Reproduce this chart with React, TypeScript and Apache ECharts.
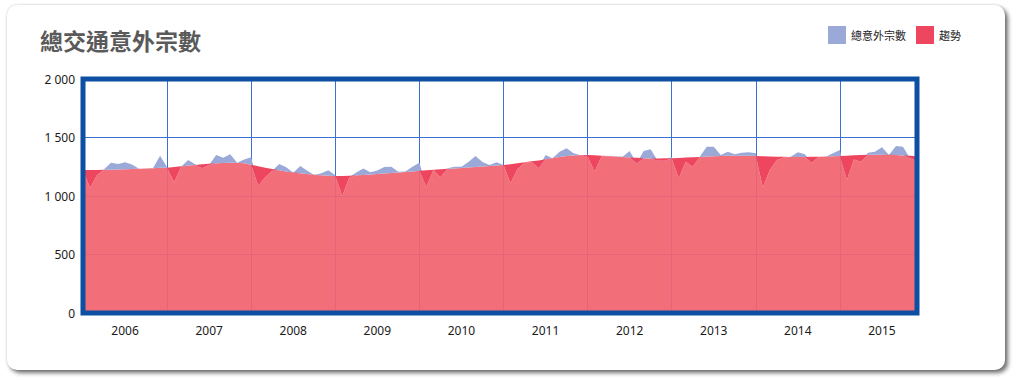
import React, { useEffect, useRef } from 'react';
import * as echarts from 'echarts';

const years = ['2006', '2007', '2008', '2009', '2010', '2011', '2012', '2013', '2014', '2015'];
const months = ['01', '02', '03', '04', '05', '06', '07', '08', '09', '10', '11', '12'];

// 總意外宗數 (monthly)
const totalAccidents = [
  1222, 1068, 1180, 1228, 1285, 1274, 1288, 1270, 1233, 1236, 1240, 1344,
  1245, 1117, 1250, 1308, 1271, 1237, 1265, 1350, 1327, 1356, 1285, 1313,
  1331, 1088, 1160, 1215, 1274, 1245, 1199, 1256, 1216, 1180, 1194, 1220,
  1178, 1000, 1160, 1200, 1234, 1202, 1217, 1248, 1251, 1208, 1210, 1251,
  1285, 1080, 1222, 1160, 1237, 1251, 1251, 1290, 1342, 1290, 1265, 1288,
  1265, 1108, 1230, 1285, 1290, 1237, 1350, 1322, 1379, 1408, 1365, 1348,
  1338, 1208, 1340, 1338, 1340, 1336, 1385, 1280, 1385, 1399, 1302, 1302,
  1336, 1151, 1293, 1251, 1336, 1422, 1422, 1350, 1379, 1356, 1370, 1373,
  1365, 1074, 1222, 1308, 1328, 1336, 1373, 1356, 1285, 1336, 1336, 1365,
  1393, 1137, 1313, 1293, 1370, 1379, 1416, 1350, 1427, 1422, 1322, 1299,
];

// 趨勢 (trend)
const trend = [
  1222, 1222, 1223, 1224, 1225, 1226, 1228, 1230, 1232, 1235, 1238, 1242,
  1242, 1248, 1254, 1260, 1266, 1271, 1276, 1280, 1283, 1285, 1285, 1280,
  1268, 1255, 1242, 1230, 1220, 1210, 1202, 1195, 1188, 1182, 1177, 1173,
  1171, 1172, 1174, 1177, 1180, 1184, 1188, 1192, 1196, 1200, 1205, 1210,
  1216, 1220, 1224, 1228, 1232, 1236, 1240, 1244, 1248, 1252, 1256, 1260,
  1265, 1272, 1280, 1288, 1296, 1304, 1314, 1324, 1334, 1342, 1347, 1350,
  1350, 1348, 1345, 1342, 1338, 1334, 1330, 1326, 1322, 1320, 1320, 1322,
  1322, 1325, 1328, 1331, 1334, 1337, 1340, 1342, 1343, 1344, 1344, 1343,
  1342, 1340, 1338, 1336, 1335, 1334, 1334, 1334, 1335, 1336, 1338, 1340,
  1342, 1345, 1348, 1350, 1352, 1353, 1353, 1352, 1350, 1347, 1343, 1339,
];

const TITLE = '總交通意外宗數';
const SERIES_TOTAL = '總意外宗數';
const SERIES_TREND = '趨勢';

const BLUE = '#9ba9d8';
const RED = '#ef4660';
const PINK = '#f16470';
const GRIDLINE = '#3b72d0';

export default function App() {
  const ref = useRef<HTMLDivElement>(null);

  useEffect(() => {
    if (!ref.current) return;
    const chart = echarts.init(ref.current, null, { renderer: 'svg' });
    const categories = years.flatMap((y) => months.map((m) => `${y}-${m}`));
    const lower = totalAccidents.map((v, i) => Math.min(v, trend[i]));
    const totalExcess = totalAccidents.map((v, i) => v - lower[i]);
    const trendExcess = trend.map((v, i) => v - lower[i]);

    const common = {
      type: 'line',
      symbol: 'none',
      showSymbol: false,
      silent: true,
      lineStyle: { width: 0 },
    };

    chart.setOption({
      animation: false,
      title: {
        text: TITLE,
        left: 35,
        top: 23,
        textStyle: {
          fontFamily: '"Noto Sans CJK TC", "Noto Sans CJK SC", sans-serif',
          fontWeight: 'bold',
          fontSize: 23,
          color: '#5a5a5a',
        },
      },
      legend: {
        left: 828,
        top: 26,
        padding: 0,
        itemWidth: 18,
        itemHeight: 18,
        itemGap: 10,
        icon: 'rect',
        data: [
          { name: SERIES_TOTAL, itemStyle: { color: BLUE } },
          { name: SERIES_TREND, itemStyle: { color: RED } },
        ],
        textStyle: {
          fontFamily: '"Noto Sans CJK TC", sans-serif',
          fontSize: 11,
          color: '#222',
        },
      },
      grid: {
        left: 83,
        right: 101,
        top: 79,
        bottom: 67,
        show: true,
        z: 10,
        borderColor: '#0d4fa3',
        borderWidth: 5,
        backgroundColor: 'transparent',
      },
      xAxis: {
        type: 'category',
        data: categories,
        boundaryGap: false,
        axisLine: { show: false },
        axisTick: { show: false },
        axisLabel: {
          interval: (index: number) => index % 12 === 6,
          formatter: (v: string) => v.slice(0, 4),
          margin: 11,
          fontFamily: '"Noto Sans", sans-serif',
          fontSize: 12,
          color: '#1a1a1a',
        },
        splitLine: {
          show: true,
          interval: (index: number) => index % 12 === 0,
          lineStyle: { color: GRIDLINE, width: 1 },
        },
      },
      yAxis: {
        type: 'value',
        min: 0,
        max: 2000,
        interval: 500,
        axisLine: { show: false },
        axisTick: { show: false },
        axisLabel: {
          margin: 8,
          fontFamily: '"Noto Sans", sans-serif',
          fontSize: 12,
          color: '#1a1a1a',
          formatter: (v: number) => String(v).replace(/\B(?=(\d{3})+(?!\d))/g, ' '),
        },
        splitLine: { show: true, lineStyle: { color: GRIDLINE, width: 1 } },
      },
      series: [
        {
          ...common,
          name: 'lower',
          stack: 'a',
          data: lower,
          itemStyle: { color: PINK },
          areaStyle: { color: PINK, opacity: 0.93 },
          z: 2,
        },
        {
          ...common,
          name: SERIES_TOTAL,
          stack: 'a',
          data: totalExcess,
          color: BLUE,
          itemStyle: { color: BLUE },
          areaStyle: { color: BLUE, opacity: 1 },
          z: 2,
        },
        {
          ...common,
          name: 'trendBase',
          stack: 'b',
          data: lower,
          itemStyle: { color: 'transparent' },
          areaStyle: { opacity: 0 },
          z: 2,
        },
        {
          ...common,
          name: SERIES_TREND,
          stack: 'b',
          data: trendExcess,
          color: RED,
          itemStyle: { color: RED },
          areaStyle: { color: RED, opacity: 1 },
          z: 2,
        },
      ],
    });
    return () => chart.dispose();
  }, []);

  return (
    <div style={{ position: 'fixed', left: 0, top: 0, width: 1018, height: 380, background: '#ffffff' }}>
      <div
        style={{
          position: 'absolute',
          left: 7,
          top: 5,
          width: 998,
          height: 365,
          borderRadius: 10,
          background: '#ffffff',
          boxShadow: '3px 3px 4px rgba(0,0,0,0.55), 0 0 3px rgba(0,0,0,0.18)',
        }}
      />
      <div ref={ref} style={{ position: 'absolute', left: 0, top: 0, width: 1018, height: 380 }} />
    </div>
  );
}
